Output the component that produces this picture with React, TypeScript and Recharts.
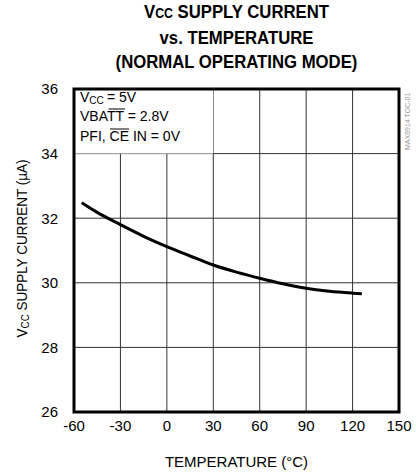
import {
  LineChart,
  Line,
  XAxis,
  YAxis,
  CartesianGrid,
  ReferenceArea,
} from "recharts";

const temperatures = [-55, -45, -30, -15, 0, 15, 30, 45, 60, 75, 90, 105, 120, 126];
const supplyCurrent = [32.48, 32.18, 31.8, 31.44, 31.12, 30.83, 30.55, 30.33, 30.14, 29.97, 29.83, 29.74, 29.68, 29.66];
const xTicks = [-60, -30, 0, 30, 60, 90, 120, 150];
const yTicks = [26, 28, 30, 32, 34, 36];

const data = temperatures.map((t, i) => ({ t, icc: supplyCurrent[i] }));

const FONT = '"Liberation Sans", Arial, sans-serif';

// test conditions box, overlines drawn by hand
function Conditions({ viewBox }: any) {
  const x = viewBox.x + 6;
  const y = viewBox.y;
  return (
    <g fontFamily={FONT} fontSize={14} fill="#000">
      <text x={x} y={y + 13}>V</text>
      <text x={x + 9.3} y={y + 15} fontSize={10}>CC</text>
      <text x={x + 27} y={y + 13}>= 5V</text>
      <text x={x} y={y + 32}>VBATT = 2.8V</text>
      <line x1={x + 28.5} x2={x + 45} y1={y + 20} y2={y + 20} stroke="#000" strokeWidth={1} />
      <text x={x} y={y + 52}>PFI, CE IN = 0V</text>
      <line x1={x + 30} x2={x + 49} y1={y + 40} y2={y + 40} stroke="#000" strokeWidth={1} />
    </g>
  );
}

function YLabel({ viewBox }: any) {
  const cx = 27;
  const cy = viewBox.y + viewBox.height / 2 - 2;
  return (
    <text
      transform={`translate(${cx},${cy}) rotate(-90) scale(0.9,1)`}
      textAnchor="middle"
      fontFamily={FONT}
      fontSize={15}
      fill="#000"
    >
      V<tspan fontSize={11} dy={2}>CC</tspan>
      <tspan dy={-2}> SUPPLY CURRENT (µA)</tspan>
    </text>
  );
}

export default function App() {
  return (
    <div style={{ position: "absolute", left: 0, top: 0, width: 416, height: 476, background: "#fff" }}>
      <div
        style={{
          position: "absolute",
          left: 74,
          top: 0,
          width: 325,
          textAlign: "center",
          fontFamily: FONT,
          fontWeight: "bold",
          fontSize: 19,
          lineHeight: "24.5px",
          color: "#000",
          transform: "scaleX(0.88)",
        }}
      >
        <div>
          V<span style={{ fontSize: 14 }}>CC</span> SUPPLY CURRENT
        </div>
        <div>vs. TEMPERATURE</div>
        <div>(NORMAL OPERATING MODE)</div>
      </div>
      <div
        style={{
          position: "absolute",
          left: 403,
          top: 88,
          width: 62,
          height: 10,
          transformOrigin: "0 0",
          transform: "translate(0, 62px) rotate(-90deg)",
          fontFamily: FONT,
          fontSize: 7,
          lineHeight: "10px",
          color: "#999",
          whiteSpace: "nowrap",
        }}
      >
        MAX6914 TOC-01
      </div>
      <LineChart
        width={416}
        height={476}
        data={data}
        margin={{ top: 89, right: 17, left: 0, bottom: 0 }}
      >
        <CartesianGrid stroke="#333" strokeWidth={1} />
        <XAxis
          dataKey="t"
          type="number"
          domain={[-60, 150]}
          ticks={xTicks}
          axisLine={false}
          tickLine={false}
          height={64}
          tick={{ fontFamily: FONT, fontSize: 15, fill: "#000" }}
          label={{
            value: "TEMPERATURE (°C)",
            position: "insideBottom",
            offset: 9,
            style: { fontFamily: FONT, fontSize: 15, fill: "#000" },
          }}
        />
        <YAxis
          type="number"
          domain={[26, 36]}
          ticks={yTicks}
          axisLine={false}
          tickLine={false}
          width={74}
          tickMargin={10}
          tick={{ fontFamily: FONT, fontSize: 15, fill: "#000" }}
          label={<YLabel />}
        />
        <ReferenceArea
          x1={-60}
          x2={30}
          y1={34}
          y2={36}
          fill="#fff"
          fillOpacity={1}
          stroke="none"
          label={<Conditions />}
        />
        <ReferenceArea
          x1={-60}
          x2={150}
          y1={26}
          y2={36}
          fill="none"
          stroke="#000"
          strokeWidth={3}
        />
        <Line
          type="monotone"
          dataKey="icc"
          stroke="#000"
          strokeWidth={3}
          dot={false}
          isAnimationActive={false}
        />
      </LineChart>
    </div>
  );
}
